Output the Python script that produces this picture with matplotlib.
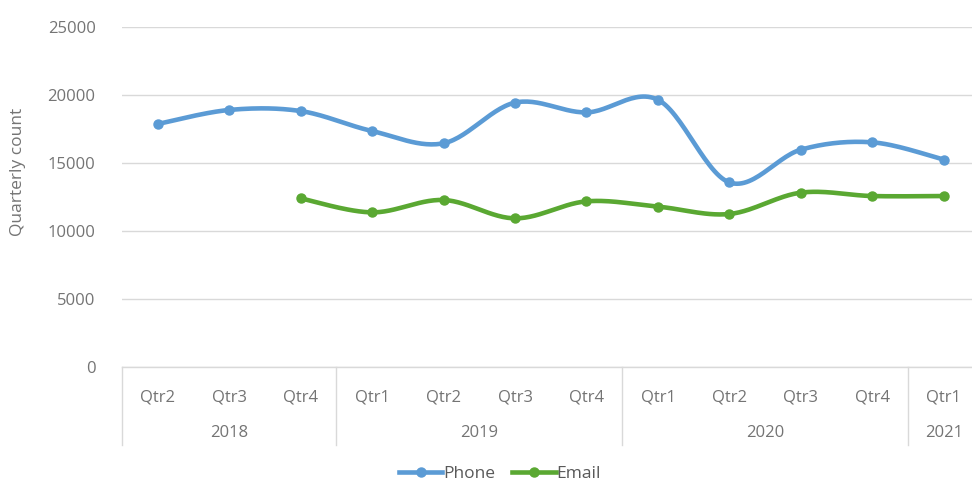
import matplotlib
matplotlib.use("Agg")
import matplotlib.pyplot as plt
import matplotlib.transforms as mtransforms
from matplotlib.lines import Line2D
import numpy as np

quarters = ["Qtr2", "Qtr3", "Qtr4",
            "Qtr1", "Qtr2", "Qtr3", "Qtr4",
            "Qtr1", "Qtr2", "Qtr3", "Qtr4",
            "Qtr1"]
years = ["2018", "2019", "2020", "2021"]
year_sizes = [3, 4, 4, 1]
phone = [17870, 18900, 18820, 17350, 16450, 19440, 18720,
         19650, 13570, 15980, 16520, 15250]
email = [np.nan, np.nan, 12400, 11370, 12280, 10930, 12180,
         11790, 11250, 12820, 12570, 12570]

BLUE, GREEN = "#5b9bd5", "#5aa832"
GRID, TICK, LEGTXT = "#d9d9d9", "#747474", "#595959"

plt.rcParams["font.family"] = ["Open Sans", "DejaVu Sans"]


def smooth(x, y, n=30):
    # Excel-style smoothed line: cubic Bezier between points, control
    # points taken from neighbouring slopes (Catmull-Rom).
    x = np.asarray(x, float); y = np.asarray(y, float)
    px = np.concatenate([[x[0]], x, [x[-1]]])
    py = np.concatenate([[y[0]], y, [y[-1]]])
    xs, ys = [], []
    t = np.linspace(0, 1, n)
    for i in range(1, len(px) - 2):
        p0 = np.array([px[i], py[i]]); p3 = np.array([px[i + 1], py[i + 1]])
        c1 = p0 + (np.array([px[i + 1], py[i + 1]]) - np.array([px[i - 1], py[i - 1]])) / 6
        c2 = p3 - (np.array([px[i + 2], py[i + 2]]) - np.array([px[i], py[i]])) / 6
        b = ((1 - t) ** 3)[:, None] * p0 + (3 * (1 - t) ** 2 * t)[:, None] * c1 \
            + (3 * (1 - t) * t ** 2)[:, None] * c2 + (t ** 3)[:, None] * p3
        xs.extend(b[:, 0]); ys.extend(b[:, 1])
    return np.array(xs), np.array(ys)


fig = plt.figure(figsize=(9.72, 4.82), dpi=100)
ax = fig.add_axes([122 / 972, 1 - 367 / 482, (979.5 - 122) / 972, (367 - 27) / 482])

idx = np.arange(len(quarters))
for vals, c in [(phone, BLUE), (email, GREEN)]:
    v = np.asarray(vals, float)
    ok = ~np.isnan(v)
    sx, sy = smooth(idx[ok], v[ok])
    ax.plot(sx, sy, color=c, lw=3.3, solid_capstyle="round", zorder=3)
    ax.plot(idx[ok], v[ok], "o", color=c, ms=6.5, zorder=4)

ax.set_xlim(-0.5, len(quarters) - 0.5)
ax.set_ylim(0, 25000)
ax.set_yticks(np.arange(0, 25001, 5000))
ax.grid(axis="y", color=GRID, lw=1.0)
ax.set_axisbelow(True)
for s in ["top", "right", "left"]:
    ax.spines[s].set_visible(False)
ax.spines["bottom"].set_color(GRID)
ax.spines["bottom"].set_linewidth(1.0)
ax.tick_params(axis="y", length=0, pad=19, labelsize=12, labelcolor=TICK)
ax.set_xticks(idx, quarters)
ax.tick_params(axis="x", length=0, pad=16, labelsize=12, labelcolor=TICK)

# second level of the category axis: year labels and group dividers
trans = mtransforms.blended_transform_factory(ax.transData, ax.transAxes)
start = -0.5
for yr, size in zip(years, year_sizes):
    ax.plot([start, start], [0, -0.23], color=GRID, lw=1.0,
            transform=trans, clip_on=False)
    ax.text(start + size / 2, -0.195, yr, transform=trans, ha="center",
            va="center", fontsize=12, color=TICK)
    start += size

fig.text(18 / 972, 1 - 172 / 482, "Quarterly count", rotation=90,
         ha="center", va="center", fontsize=12.5, color=TICK)

handles = [Line2D([], [], color=BLUE, lw=3.3, marker="o", ms=6.5),
           Line2D([], [], color=GREEN, lw=3.3, marker="o", ms=6.5)]
fig.legend(handles, ["Phone", "Email"], loc="center", ncol=2,
           bbox_to_anchor=(500 / 972, 1 - 474 / 482), frameon=False,
           fontsize=12.5, labelcolor=LEGTXT, handlelength=2.5,
           handletextpad=0.05, columnspacing=1.0)

fig.savefig("out.png", dpi=100)
